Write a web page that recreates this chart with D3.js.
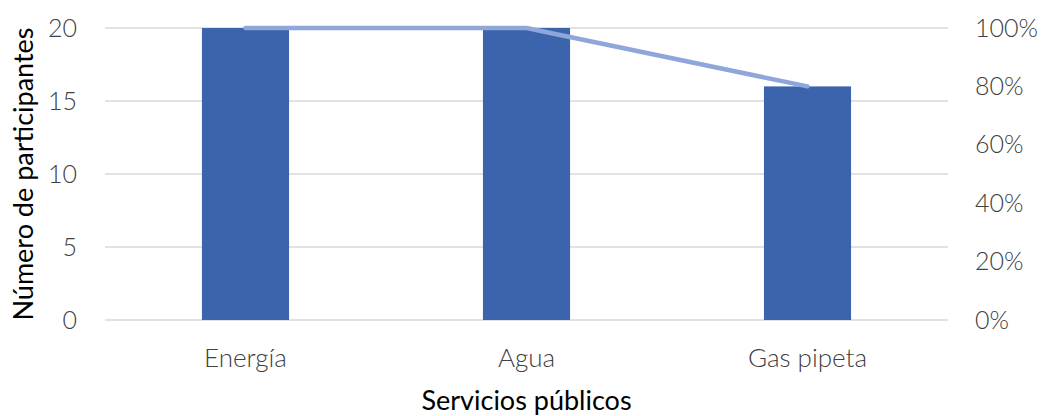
<!DOCTYPE html>
<html>
<head>
<meta charset="utf-8">
<script src="https://cdn.jsdelivr.net/npm/d3@7"></script>
<style>
  body { margin: 0; background: #fff; }
  text { font-family: Lato, "Open Sans", sans-serif; }
</style>
</head>
<body>
<div id="chart"></div>
<script>
// data
const categories = ["Energía", "Agua", "Gas pipeta"];
const participants = [20, 20, 16];
const percent = [1, 1, 0.8];
const leftTicks = [0, 5, 10, 15, 20];
const rightTicks = [0, 0.2, 0.4, 0.6, 0.8, 1];

const width = 1044, height = 416;
const margin = {top: 28, right: 96, bottom: 96, left: 105};

const svg = d3.select("#chart").append("svg")
    .attr("width", width)
    .attr("height", height);

const x = d3.scaleBand()
    .domain(categories)
    .range([margin.left, width - margin.right])
    .paddingInner(0.69)
    .paddingOuter(0.345);

const y = d3.scaleLinear()
    .domain([0, 20])
    .range([height - margin.bottom, margin.top]);

const y2 = d3.scaleLinear()
    .domain([0, 1])
    .range([height - margin.bottom, margin.top]);

// gridlines
svg.append("g")
    .selectAll("line")
    .data(leftTicks)
    .join("line")
    .attr("x1", margin.left)
    .attr("x2", width - margin.right)
    .attr("y1", d => y(d))
    .attr("y2", d => y(d))
    .attr("stroke", "#d9d9d9")
    .attr("stroke-width", 1.5);

// bars
svg.append("g")
    .selectAll("rect")
    .data(categories)
    .join("rect")
    .attr("x", d => x(d))
    .attr("width", x.bandwidth())
    .attr("y", (d, i) => y(participants[i]))
    .attr("height", (d, i) => y(0) - y(participants[i]))
    .attr("fill", "#3c64ad");

// line
const line = d3.line()
    .x((d, i) => x(categories[i]) + x.bandwidth() / 2)
    .y(d => y2(d));

svg.append("path")
    .datum(percent)
    .attr("d", line)
    .attr("fill", "none")
    .attr("stroke", "#8ea6d9")
    .attr("stroke-width", 4.5)
    .attr("stroke-linecap", "round")
    .attr("stroke-linejoin", "round");

// left axis
const leftAxis = svg.append("g")
    .attr("transform", `translate(${margin.left},0)`)
    .call(d3.axisLeft(y).tickValues(leftTicks).tickSize(0).tickPadding(28));
leftAxis.select(".domain").remove();
leftAxis.selectAll("text")
    .attr("font-size", 25)
    .attr("font-weight", 300)
    .attr("fill", "#404040");

// right axis
const rightAxis = svg.append("g")
    .attr("transform", `translate(${width - margin.right},0)`)
    .call(d3.axisRight(y2).tickValues(rightTicks).tickFormat(d3.format(".0%")).tickSize(0).tickPadding(27));
rightAxis.select(".domain").remove();
rightAxis.selectAll("text")
    .attr("font-size", 25)
    .attr("font-weight", 300)
    .attr("fill", "#404040");

// bottom axis
const bottomAxis = svg.append("g")
    .attr("transform", `translate(0,${height - margin.bottom})`)
    .call(d3.axisBottom(x).tickSize(0).tickPadding(29));
bottomAxis.select(".domain").remove();
bottomAxis.selectAll("text")
    .attr("font-size", 26)
    .attr("font-weight", 300)
    .attr("fill", "#404040");

// axis titles
svg.append("text")
    .attr("x", (margin.left + width - margin.right) / 2)
    .attr("y", 410)
    .attr("text-anchor", "middle")
    .attr("font-size", 27)
    .attr("fill", "#000")
    .text("Servicios públicos");

svg.append("text")
    .attr("transform", `translate(33,${(margin.top + height - margin.bottom) / 2}) rotate(-90)`)
    .attr("text-anchor", "middle")
    .attr("font-size", 27)
    .attr("fill", "#000")
    .text("Número de participantes");
</script>
</body>
</html>
